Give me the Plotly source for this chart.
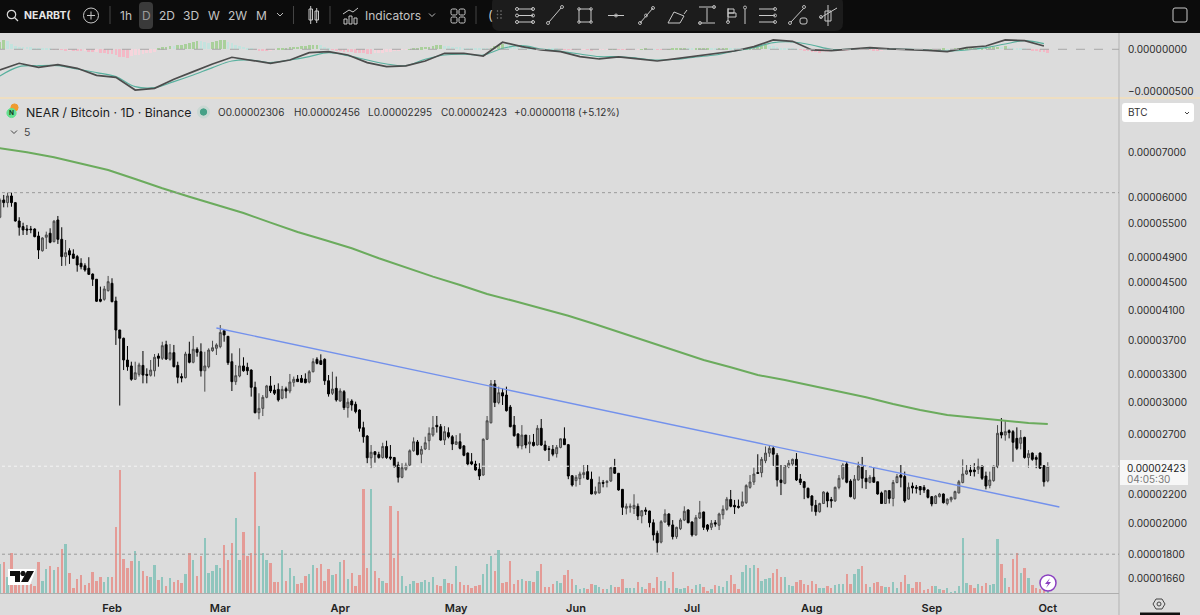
import pandas as pd
import plotly.graph_objects as go

W = 1200
H = 615

# daily candles, prices in units of 0.00000001 BTC
open_ = [
    5619,5956,5903,6038,5903,5548,5444,5400,5400,5400,
    5274,5018,5251,5323,5173,5567,5215,4919,5018,4963,
    4919,4809,4770,4729,4637,4557,4258,4258,4385,4495,
    4234,3839,3733,3469,3400,3250,3305,3406,3305,3294,
    3345,3516,3489,3653,3477,3556,3406,3280,3268,3540,
    3442,3597,3567,3345,3391,3580,3609,3629,3830,3758,
    3449,3224,3286,3400,3384,3353,3163,2903,2946,3058,
    3178,3134,3141,3048,3148,3124,3217,3253,3260,3253,
    3220,3334,3477,3461,3477,3234,3100,3152,3020,3117,
    2953,3020,2987,2930,2760,2683,2493,2544,2520,2495,
    2590,2500,2495,2433,2334,2398,2431,2553,2630,2523,
    2568,2641,2692,2782,2769,2647,2714,2677,2609,2632,
    2595,2533,2460,2441,2398,2352,2654,2806,3199,3004,
    3106,3082,2959,2784,2702,2595,2692,2612,2627,2603,
    2754,2603,2570,2565,2528,2582,2658,2606,2346,2308,
    2323,2355,2379,2319,2210,2214,2294,2293,2305,2413,
    2366,2241,2102,2109,2100,2116,2048,2090,2083,2002,
    1932,1875,2007,2062,1987,1910,1962,2020,2090,2007,
    1921,2034,2076,1987,1971,2002,1985,2057,2095,2165,
    2123,2116,2119,2142,2256,2297,2371,2371,2468,2533,
    2574,2514,2313,2287,2419,2441,2480,2321,2299,2249,
    2191,2123,2078,2136,2214,2165,2155,2256,2326,2441,
    2305,2173,2313,2427,2326,2295,2334,2299,2214,2136,
    2231,2173,2293,2352,2340,2168,2266,2256,2262,2256,
    2236,2186,2136,2186,2206,2136,2162,2171,2214,2293,
    2360,2392,2392,2398,2425,2344,2271,2308,2419,2717,
    2692,2732,2723,2662,2618,2671,2495,2533,2495,2533,
    2427,2306,
]
high = [
    5990,6058,6105,6105,5916,5619,5516,5474,5456,5413,
    5352,5251,5352,5413,5567,5643,5432,5203,5060,5042,
    4947,4892,4809,4909,4648,4557,4445,4455,4608,4572,
    4296,3839,3741,3637,3449,3449,3437,3576,3373,3469,
    3540,3548,3690,3702,3662,3650,3449,3316,3567,3690,
    3762,3621,3670,3567,3609,3702,3670,3904,3848,3758,
    3548,3411,3609,3501,3437,3361,3224,3100,3082,3189,
    3286,3189,3206,3178,3170,3309,3280,3297,3297,3316,
    3353,3489,3501,3536,3489,3297,3334,3280,3152,3134,
    3048,3038,3014,2937,2816,2692,2603,2550,2544,2623,
    2641,2603,2500,2460,2448,2452,2565,2671,2647,2595,
    2677,2763,2871,2871,2794,2775,2763,2692,2692,2708,
    2603,2538,2533,2468,2448,2662,2871,3242,3242,3170,
    3152,3170,2980,2871,2708,2784,2692,2692,2702,2784,
    2842,2641,2595,2603,2603,2662,2763,2612,2352,2352,
    2379,2433,2433,2379,2262,2340,2313,2313,2419,2484,
    2366,2241,2136,2136,2204,2136,2090,2109,2085,2025,
    1949,2020,2095,2067,2020,1975,2032,2116,2095,2011,
    2055,2155,2078,1993,2020,2020,2071,2123,2184,2236,
    2162,2165,2224,2280,2352,2411,2523,2500,2590,2598,
    2595,2533,2433,2433,2474,2486,2533,2360,2305,2254,
    2198,2162,2142,2226,2224,2184,2262,2352,2448,2460,
    2319,2352,2460,2500,2392,2352,2419,2299,2224,2236,
    2236,2313,2360,2433,2379,2293,2293,2274,2266,2274,
    2241,2191,2198,2214,2210,2173,2186,2231,2313,2480,
    2433,2433,2448,2486,2433,2379,2379,2433,2784,2851,
    2832,2744,2738,2763,2738,2677,2559,2538,2514,2538,
    2433,2456,
]
low = [
    5600,5810,5810,5822,5536,5280,5292,5292,5323,5251,
    4880,5002,5047,5146,5163,5134,4766,4770,4799,4880,
    4675,4712,4675,4623,4455,4220,4216,4238,4370,4216,
    3650,2974,3353,3345,3234,3242,3280,3206,3206,3280,
    3280,3391,3469,3469,3461,3384,3206,3217,3260,3430,
    3430,3508,3280,3117,3373,3567,3528,3609,3690,3411,
    3124,3189,3272,3334,3297,3065,2897,2839,2871,3048,
    3103,3082,3014,3038,3048,3100,3170,3224,3217,3206,
    3206,3327,3418,3411,3189,3065,3082,3014,3014,2930,
    2855,2923,2897,2723,2623,2448,2407,2452,2486,2486,
    2484,2474,2413,2293,2326,2387,2425,2544,2514,2448,
    2559,2559,2677,2714,2641,2603,2662,2559,2603,2565,
    2506,2431,2431,2387,2313,2346,2647,2800,2959,2987,
    2980,2914,2763,2677,2574,2565,2574,2533,2590,2598,
    2595,2550,2466,2506,2495,2574,2603,2319,2262,2262,
    2274,2326,2313,2204,2198,2210,2256,2256,2297,2360,
    2231,2055,2059,2071,2062,2020,1998,2055,1971,1885,
    1810,1867,2002,1975,1892,1896,1953,2013,1998,1910,
    1916,2027,1953,1943,1953,1975,1953,2025,2085,2109,
    2062,2100,2112,2133,2246,2274,2360,2334,2448,2500,
    2425,2262,2198,2280,2407,2427,2305,2274,2168,2173,
    2078,2050,2071,2133,2109,2106,2147,2241,2313,2287,
    2181,2165,2308,2249,2244,2287,2293,2201,2133,2133,
    2136,2116,2287,2256,2142,2162,2210,2210,2198,2214,
    2173,2116,2133,2181,2136,2123,2145,2165,2210,2287,
    2352,2344,2340,2360,2313,2241,2249,2299,2407,2662,
    2641,2662,2460,2559,2565,2486,2411,2468,2407,2400,
    2262,2295,
]
close = [
    5956,5903,6038,5903,5548,5432,5382,5382,5388,5262,
    5030,5239,5292,5163,5543,5215,4919,4985,4947,4892,
    4782,4754,4701,4633,4557,4230,4230,4410,4520,4224,
    3839,3733,3469,3391,3250,3323,3411,3297,3294,3353,
    3501,3489,3641,3481,3556,3391,3272,3264,3540,3442,
    3597,3560,3345,3400,3588,3616,3650,3806,3775,3437,
    3224,3290,3400,3345,3345,3163,2903,2946,3058,3178,
    3124,3100,3031,3141,3124,3220,3250,3224,3217,3213,
    3334,3449,3430,3418,3234,3093,3145,3031,3124,2953,
    3008,2980,2914,2754,2677,2493,2540,2520,2495,2590,
    2495,2490,2419,2334,2411,2431,2553,2632,2520,2565,
    2623,2708,2760,2769,2647,2723,2677,2612,2632,2574,
    2514,2441,2441,2392,2344,2654,2825,3199,3004,3106,
    3072,2923,2769,2686,2595,2692,2603,2630,2598,2754,
    2603,2559,2565,2523,2582,2658,2606,2344,2274,2334,
    2360,2371,2319,2206,2224,2293,2287,2302,2411,2366,
    2236,2109,2116,2116,2123,2048,2085,2081,2002,1921,
    1871,2009,2062,1987,1910,1971,2020,2081,2002,1921,
    2036,2071,1971,1958,1998,1993,2062,2095,2168,2116,
    2112,2109,2149,2269,2297,2360,2366,2480,2533,2574,
    2523,2313,2293,2427,2448,2480,2313,2293,2254,2181,
    2123,2078,2136,2221,2155,2155,2256,2326,2433,2295,
    2186,2319,2425,2326,2299,2334,2295,2206,2136,2231,
    2173,2293,2340,2334,2155,2256,2251,2249,2236,2236,
    2181,2133,2191,2206,2142,2168,2181,2224,2299,2360,
    2387,2376,2379,2419,2326,2266,2313,2425,2708,2692,
    2723,2714,2627,2574,2668,2495,2528,2480,2480,2407,
    2299,2423,
]
volume = [
    89,94,49,121,61,36,31,31,29,23,
    94,39,73,83,71,78,133,149,61,17,
    44,56,26,33,63,39,49,35,49,49,
    198,371,104,75,97,127,96,68,53,49,
    85,41,49,23,46,35,41,32,58,122,
    101,53,111,166,61,68,85,75,146,101,
    152,226,99,183,113,121,365,202,120,99,
    92,35,35,130,39,77,53,29,32,53,
    58,85,77,87,37,73,54,58,95,101,
    44,61,23,56,314,75,314,68,46,37,
    32,261,106,248,51,23,29,37,32,35,
    41,34,49,25,23,44,32,28,82,35,
    25,25,17,23,25,59,89,111,68,130,
    32,35,97,30,41,44,37,39,35,66,
    89,20,20,30,39,32,56,71,44,26,
    15,17,13,29,25,20,13,15,25,20,
    20,44,17,17,17,35,20,13,32,17,
    49,39,39,17,63,17,13,17,23,15,
    25,29,21,8,15,25,23,21,37,56,
    29,15,63,85,77,85,75,37,43,46,
    61,73,49,49,25,23,35,40,28,25,
    38,30,17,17,23,17,25,30,28,57,
    28,58,74,81,28,19,32,34,23,19,
    19,34,17,36,55,28,17,34,36,12,
    13,22,22,13,10,17,4,8,24,165,
    31,26,17,30,23,31,27,28,163,88,
    46,19,103,120,60,76,46,26,17,15,
    12,8,
]
# oscillator histogram, one value a day
hist = [
    85,110,95,60,40,30,28,25,22,18,15,12,10,6,-3,-5,
    -8,-12,-10,-15,-20,-25,-22,-28,-35,-32,-38,-45,-52,-60,-70,-85,-90,-98,-80,-70,-62,-55,-45,-38,-28,
    12,22,30,40,38,45,55,68,80,88,95,92,85,80,90,100,108,115,
    85,70,55,40,30,20,8,-6,-10,-14,-16,-12,-8,
    6,12,18,22,26,30,35,40,45,52,56,50,25,8,
    -8,-15,-22,-28,-30,-35,-38,-42,-45,-50,-52,-48,-44,-40,-35,-28,-22,-15,-8,-3,3,
    12,18,22,28,32,38,45,48,42,36,30,28,22,18,16,14,10,8,6,5,
    20,35,48,62,58,50,44,38,32,28,22,18,14,10,8,6,5,4,3,
    -3,-4,-6,-8,-6,-5,-8,-10,-6,-4,-3,-2,2,3,-2,-4,-5,-6,-4,-2,3,4,3,2,-2,-3,-2,2,
    4,6,8,10,6,4,8,12,16,18,14,8,10,14,18,12,8,6,4,
    12,20,28,36,42,46,40,34,26,20,14,8,4,2,
    -6,-12,-18,-26,-32,-38,-34,-28,
    -22,-18,-14,-12,-10,-8,-6,-5,-4,-6,-8,-10,-12,-10,-8,-6,-6,-8,-6,-4,-5,-6,-4,-3,-2,-3,
    2,-2,2,4,3,2,5,8,12,14,16,18,16,20,24,28,30,32,30,34,
    26,20,16,10,6,-6,-12,-18,-26,-34,-40,
]
# oscillator lines, one value every five days
osc_slow = [
    -244,-165,-212,-181,-224,-307,-330,-480,-460,-354,-263,
    -173,-94,-126,-165,-126,-39,-28,-67,-157,-204,-196,
    -138,-47,-47,-79,83,31,-8,-28,-86,-114,-90,-114,
    -138,-110,-79,-55,-20,31,110,94,-8,-16,4,20,4,0,
    -12,-28,20,39,110,102,39,
]
osc_signal = [
    -314,-204,-193,-193,-232,-275,-322,-440,-452,-381,-303,
    -216,-138,-126,-157,-126,-86,-39,-75,-126,-173,-193,
    -118,-67,-59,-67,12,43,4,-24,-55,-86,-86,-106,
    -126,-118,-90,-67,-20,20,79,86,51,0,4,12,4,0,
    -8,-20,-8,20,63,102,67,
]
# long moving average, one value a week, last one on the final day
ma_long = [
    7092,6998,6880,6742,6591,6394,6196,6023,5856,5701,
    5517,5346,5203,5059,4892,4738,4597,4470,4336,4234,
    4131,4029,3914,3797,3683,3568,3469,3384,3297,3242,
    3178,3116,3059,2990,2930,2881,2853,2832,2804,2794,
]
# drawn trend line
trend_dates = ["2025-02-28", "2025-10-04"]
trend_prices = [3865, 2111]
level_prices = [6105, 1800]
last_price = 2423

price_ticks = [7000, 6000, 5500, 4900, 4500, 4100, 3700, 3300, 3000, 2700, 2200, 2000, 1800, 1660]
month_ticks = ["2025-02-01", "2025-03-01", "2025-04-01", "2025-05-01", "2025-06-01",
               "2025-07-01", "2025-08-01", "2025-09-01", "2025-10-01"]
month_labels = ["Feb", "Mar", "Apr", "May", "Jun", "Jul", "Aug", "Sep", "Oct"]

assert len(open_) == len(high) == len(low) == len(close) == len(volume) == len(hist) == 272

days = pd.date_range("2025-01-03", periods=272, freq="D")
osc_days = days[::5]
ma_days = list(days[::7]) + [days[-1]]


def sat(values):
    return [v * 1e-8 for v in values]


def px(x):
    return x / W


def py(y):
    return 1 - y / H


shapes = []
notes = []


def rect(x0, y0, x1, y1, fill=None, line=None, width=1, radius=0):
    # rectangle in screen pixels, with rounded corners if radius is given
    if radius:
        r = radius
        kx, ky = r / W, r / H
        a, b, c, d = px(x0), px(x1), py(y0), py(y1)
        path = (f"M {a+kx} {c} L {b-kx} {c} Q {b} {c} {b} {c-ky} L {b} {d+ky} Q {b} {d} {b-kx} {d} "
                f"L {a+kx} {d} Q {a} {d} {a} {d+ky} L {a} {c-ky} Q {a} {c} {a+kx} {c} Z")
        shapes.append(dict(type="path", xref="paper", yref="paper", path=path,
                           fillcolor=fill or "rgba(0,0,0,0)", line=dict(color=line or "rgba(0,0,0,0)", width=width)))
    else:
        shapes.append(dict(type="rect", xref="paper", yref="paper", x0=px(x0), x1=px(x1), y0=py(y0), y1=py(y1),
                           fillcolor=fill or "rgba(0,0,0,0)", line=dict(color=line or "rgba(0,0,0,0)", width=width)))


def poly(points, fill=None, line=None, width=1):
    path = "M " + " L ".join(f"{px(a)} {py(b)}" for a, b in points) + " Z"
    shapes.append(dict(type="path", xref="paper", yref="paper", path=path,
                       fillcolor=fill or "rgba(0,0,0,0)", line=dict(color=line or "rgba(0,0,0,0)", width=width)))


def seg(x0, y0, x1, y1, color="#b5b5b5", width=1, dash=None):
    shapes.append(dict(type="line", xref="paper", yref="paper", x0=px(x0), x1=px(x1), y0=py(y0), y1=py(y1),
                       line=dict(color=color, width=width, dash=dash)))


def dot(x, y, r, fill=None, line="#b5b5b5", width=1):
    shapes.append(dict(type="circle", xref="paper", yref="paper", x0=px(x - r), x1=px(x + r),
                       y0=py(y + r), y1=py(y - r), fillcolor=fill or "rgba(0,0,0,0)",
                       line=dict(color=line, width=width)))


def label(x, y, text, size=12, color="#222222", anchor="left", family="Inter"):
    notes.append(dict(xref="paper", yref="paper", x=px(x), y=py(y), text=text, showarrow=False,
                      xanchor=anchor, yanchor="middle", font=dict(size=size, color=color, family=family)))


# top toolbar
rect(0, 0, W, 33, fill="#0c0c0c")
rect(492, -4, 843, 31, fill="#1c1c1c", radius=8)
rect(139, 2, 153, 29, fill="#3a3a3a", radius=4)
dot(11.5, 14.5, 4.2, line="#d8d8d8", width=1.2)
seg(14.5, 17.5, 18, 21, color="#d8d8d8", width=1.2)
label(22, 15.5, "<b>NEARBT(</b>", 10.5, "#e6e6e6")
dot(91, 15.5, 7.5, line="#c8c8c8")
seg(87, 15.5, 95, 15.5, color="#c8c8c8")
seg(91, 11.5, 91, 19.5, color="#c8c8c8")
seg(110, 6, 110, 24, color="#444444")
for x, t in zip([126, 146, 167, 191, 213.5, 237, 261],
                ["1h", "D", "2D", "3D", "W", "2W", "M"]):
    label(x, 15.5, t, 12, "#c4c4c4" if t != "D" else "#9a9a9a", anchor="center")
seg(277, 13, 280, 16, color="#bbbbbb")
seg(280, 16, 283, 13, color="#bbbbbb")
seg(293.5, 6, 293.5, 24, color="#444444")
rect(309, 9, 312.5, 20, line="#c8c8c8")
seg(310.7, 6, 310.7, 24, color="#c8c8c8")
rect(315, 11, 318.5, 20, line="#c8c8c8")
seg(316.7, 8, 316.7, 23, color="#c8c8c8")
seg(330, 6, 330, 24, color="#444444")
for a, b in [(344, 19), (349, 16), (354, 18)]:
    rect(a, b, a + 3, 24, line="#c8c8c8")
seg(343, 14, 349, 10, color="#c8c8c8")
seg(349, 10, 353, 12, color="#c8c8c8")
seg(353, 12, 358, 8, color="#c8c8c8")
label(363, 15.5, "Indicators", 12, "#c4c4c4")
seg(429, 13.5, 432, 16.5, color="#bbbbbb")
seg(432, 16.5, 435, 13.5, color="#bbbbbb")
for a in [451, 459]:
    for b in [9, 17]:
        rect(a, b, a + 6, b + 6, line="#c8c8c8", radius=1.5)
seg(476, 6, 476, 24, color="#444444")
label(486, 15.5, "(", 13, "#c4c4c4")
for a in [497.5, 501]:
    for b in [11, 14.5, 18]:
        dot(a, b, 0.4, line="#777777")
# drawing tools in the floating panel
for b in [9, 15.5, 22]:
    seg(518, b, 533, b, color="#c8c8c8")
    dot(517, b, 1.5, line="#c8c8c8")
    dot(533, b, 1.5, line="#c8c8c8")
seg(549, 22, 561, 8, color="#c8c8c8")
dot(548, 23, 1.5)
dot(562, 7, 1.5)
rect(579, 9, 591, 22, line="#c8c8c8")
for a, b in [(579, 9), (591, 9), (579, 22), (591, 22)]:
    dot(a, b, 1.3)
seg(608, 15.5, 624, 15.5, color="#c8c8c8")
dot(616, 15.5, 1.5)
seg(640, 23, 653, 8, color="#c8c8c8")
dot(640, 23, 1.5)
dot(646, 15.5, 1.5)
dot(653, 8, 1.5)
seg(668, 23, 680, 23, color="#c8c8c8")
seg(668, 23, 674, 12, color="#c8c8c8")
seg(674, 12, 684, 16, color="#c8c8c8")
seg(680, 23, 684, 16, color="#c8c8c8")
seg(684, 14, 687, 10, color="#c8c8c8")
seg(699, 23, 715, 23, color="#c8c8c8")
seg(699, 7, 715, 7, color="#c8c8c8")
seg(707, 8, 707, 22, color="#c8c8c8")
dot(714, 7, 1.5)
dot(700, 23, 1.5)
seg(728, 8, 728, 22, color="#c8c8c8")
rect(728, 9, 734, 13, line="#c8c8c8")
rect(728, 13, 736, 17, line="#c8c8c8")
dot(728, 22, 1.5)
seg(745, 9, 745, 24, color="#c8c8c8")
dot(745, 7.5, 1.5)
for b in [9, 15.5, 22]:
    seg(759, b, 775, b, color="#c8c8c8")
    dot(775, b, 1.5)
seg(791, 22, 804, 8, color="#c8c8c8")
dot(790, 23, 1.5)
dot(804, 7, 1.5)
rect(800, 18, 807, 24, line="#c8c8c8", radius=2)
rect(825, 11, 831, 21, line="#c8c8c8")
seg(828, 5, 828, 26, color="#c8c8c8")
seg(820, 18, 837, 8, color="#c8c8c8")
dot(821, 17, 1.5)
rect(1173, 8, 1187, 22, line="#c8c8c8", radius=2)

# pane separator and right hand column
seg(0, 98, W, 98, color="#f5dfb9", width=1.5)
seg(1119, 33, 1119, H, color="#b3b3b3", width=1)
seg(0, 593.5, 1119, 593.5, color="#aeaeae", width=1)

# legend line
dot(14.5, 107.5, 3.6, fill="#ef9a2f", line="#ef9a2f")
dot(11.5, 113, 4.6, fill="#63e08f", line="#63e08f")
label(11.5, 113, "<b>N</b>", 6.5, "#123a22", anchor="center")
label(24, 112, "NEAR / Bitcoin · 1D · Binance", 12.3, "#1c1c1c")
dot(203.5, 112, 6, fill="#c9d8d3", line="#c9d8d3")
dot(203.5, 112, 3.2, fill="#46a187", line="#46a187")
for x, part in zip([216, 292, 366, 439, 512],
                   ["O0.00002306", "H0.00002456", "L0.00002295", "C0.00002423", "+0.00000118 (+5.12%)"]):
    label(x, 112.5, part, 10, "#333333")
seg(11, 130.5, 14, 133.5, color="#444444")
seg(14, 133.5, 17, 130.5, color="#444444")
label(22, 132.5, "5", 10.5, "#444444")

# symbol currency box
rect(1122, 103, 1194, 122, fill="#ffffff", radius=3)
label(1126, 112.5, "BTC", 10, "#333333")
seg(1185, 112, 1187, 114, color="#444444")
seg(1187, 114, 1189, 112, color="#444444")

# last price box
rect(1120, 460, 1188, 485, fill="#f7f7f7")
label(1125, 467.5, "0.00002423", 10, "#222222")
label(1125, 479, "04:05:30", 10, "#777777")

# bottom corner logo, badge and gear
poly([(8, 569), (36, 569), (30, 585), (8, 585)], fill="#ffffff")
poly([(10, 571), (20, 571), (20, 582), (15, 582), (15, 576), (10, 576)], fill="#111111")
dot(23, 573.5, 2.2, fill="#111111", line="#111111")
poly([(27, 571), (34, 571), (28, 582), (21, 582)], fill="#111111")
dot(1048, 583, 8, fill="#ffffff", line="#8a3fc0", width=1.5)
poly([(1050, 578), (1045, 584), (1048, 584), (1046, 588), (1051, 582), (1048, 582)], fill="#8a3fc0")
poly([(1153, 604), (1156, 599), (1162, 599), (1165, 604), (1162, 609), (1156, 609)], line="#444444")
dot(1159, 604, 2, line="#444444")
rect(1140, 612.5, 1180, 615, fill="#111111")

# price levels
for level in level_prices:
    shapes.append(dict(type="line", xref="x", yref="y", x0=days[0] - pd.Timedelta(days=1),
                       x1=days[-1] + pd.Timedelta(days=19), y0=level * 1e-8, y1=level * 1e-8,
                       line=dict(color="#9a9a9a", width=1, dash="dot")))
shapes.append(dict(type="line", xref="x", yref="y", x0=days[0] - pd.Timedelta(days=1),
                   x1=days[-1] + pd.Timedelta(days=19), y0=last_price * 1e-8, y1=last_price * 1e-8,
                   line=dict(color="#f4f4f4", width=1, dash="dot")))
shapes.append(dict(type="line", xref="x", yref="y2", x0=days[0] - pd.Timedelta(days=1),
                   x1=days[-1] + pd.Timedelta(days=19), y0=0, y1=0,
                   line=dict(color="#a8a8a8", width=1, dash="dash")))

hist_colors = []
for i, v in enumerate(hist):
    prev = hist[i - 1] if i else v
    if v >= 0:
        hist_colors.append("#a9d09b" if v >= prev else "#c3e3de")
    else:
        hist_colors.append("#f3b9c6" if v < prev else "#f6d5dc")
vol_colors = ["#8fc5bd" if c >= o else "#e49b96" for o, c in zip(open_, close)]

fig = go.Figure()
fig.add_trace(go.Bar(x=days, y=hist, marker_color=hist_colors, marker_line_width=0,
                     width=0.7 * 86400000, xaxis="x", yaxis="y2", name="Histogram"))
fig.add_trace(go.Scatter(x=osc_days, y=osc_signal, mode="lines", line=dict(color="#58b09e", width=1.1, shape="spline"),
                         xaxis="x", yaxis="y2", name="Signal"))
fig.add_trace(go.Scatter(x=osc_days, y=osc_slow, mode="lines", line=dict(color="#4c4c4c", width=1.7),
                         xaxis="x", yaxis="y2", name="Oscillator"))
fig.add_trace(go.Scatter(x=ma_days, y=sat(ma_long), mode="lines", line=dict(color="#6bab5d", width=2),
                         xaxis="x", yaxis="y", name="MA"))
fig.add_trace(go.Candlestick(x=days, open=sat(open_), high=sat(high), low=sat(low), close=sat(close),
                             increasing=dict(line=dict(color="#4a4a4a", width=1), fillcolor="#9a9a9a"),
                             decreasing=dict(line=dict(color="#000000", width=1), fillcolor="#000000"),
                             whiskerwidth=0, xaxis="x", yaxis="y", name="NEARBTC"))
fig.add_trace(go.Scatter(x=trend_dates, y=sat(trend_prices), mode="lines", line=dict(color="#7391ec", width=1.4),
                         xaxis="x", yaxis="y", name="Trend"))
fig.add_trace(go.Bar(x=days, y=volume, marker_color=vol_colors, marker_line_width=0,
                     width=0.62 * 86400000, xaxis="x", yaxis="y3", name="Volume"))

axis_font = dict(family="Inter", size=10, color="#2b2b2b")
fig.update_layout(
    width=W,
    height=H,
    autosize=False,
    showlegend=False,
    margin=dict(l=0, r=0, t=0, b=0),
    paper_bgcolor="#dcdcdc",
    plot_bgcolor="#dcdcdc",
    bargap=0,
    shapes=shapes,
    annotations=notes,
    xaxis=dict(
        type="date",
        domain=[0, 1119 / W],
        range=["2025-01-03 00:50", "2025-10-19 10:00"],
        anchor="y",
        rangeslider=dict(visible=False),
        tickmode="array",
        tickvals=month_ticks,
        ticktext=month_labels,
        ticks="outside",
        ticklen=4,
        tickcolor="rgba(0,0,0,0)",
        showgrid=False,
        zeroline=False,
        tickfont=dict(family="Inter", size=11, color="#222222", weight=600),
    ),
    yaxis=dict(
        type="log",
        domain=[py(593.5), py(98)],
        range=[-4.8024, -4.0754],
        side="right",
        anchor="x",
        tickmode="array",
        tickvals=sat(price_ticks),
        ticktext=[f"{v * 1e-8:.8f}" for v in price_ticks],
        ticks="outside",
        ticklen=6,
        tickcolor="rgba(0,0,0,0)",
        showgrid=False,
        zeroline=False,
        tickfont=axis_font,
    ),
    yaxis2=dict(
        domain=[py(98), py(33)],
        range=[-574, 192],
        side="right",
        anchor="x",
        tickmode="array",
        tickvals=[0, -500],
        ticktext=["0.00000000", "−0.00000500"],
        ticks="outside",
        ticklen=6,
        tickcolor="rgba(0,0,0,0)",
        showgrid=False,
        zeroline=False,
        tickfont=axis_font,
    ),
    yaxis3=dict(
        domain=[py(593.5), py(98)],
        range=[0, 1486],
        overlaying="y",
        visible=False,
    ),
)

# the page must start at the very corner of the window
fig.write_html("out.html", config={"displayModeBar": False},
               post_script="document.body.style.margin='0';document.body.style.overflow='hidden';")
